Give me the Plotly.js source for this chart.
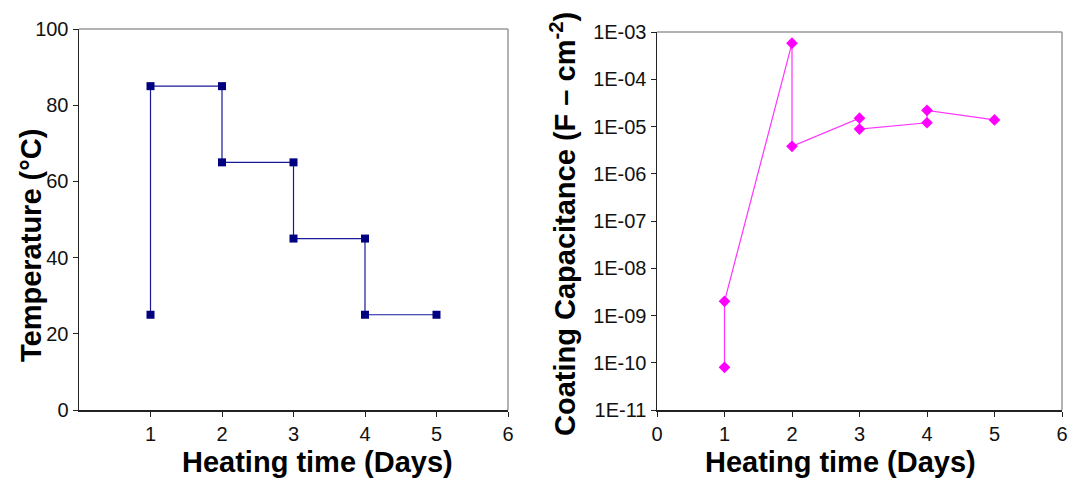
<!DOCTYPE html>
<html><head><meta charset="utf-8">
<script src="https://cdn.plot.ly/plotly-3.0.1.min.js"></script>
<style>html,body{margin:0;padding:0;background:#fff}</style>
</head><body><div id="chart" style="width:1069px;height:479px"></div>
<script>
const tempDays = [1, 1, 2, 2, 3, 3, 4, 4, 5];
const tempValues = [25, 85, 85, 65, 65, 45, 45, 25, 25];
const capDays = [1, 1, 2, 2, 3, 3, 4, 4, 5];
const capValues = [8e-11, 2e-9, 5.8e-4, 3.8e-6, 1.5e-5, 8.8e-6, 1.2e-5, 2.2e-5, 1.38e-5];
const leftXTicks = [1, 2, 3, 4, 5, 6];
const leftYTicks = [0, 20, 40, 60, 80, 100];
const rightXTicks = [0, 1, 2, 3, 4, 5, 6];
const rightYTicks = [1e-11, 1e-10, 1e-9, 1e-8, 1e-7, 1e-6, 1e-5, 1e-4, 1e-3];
const rightYLabels = ["1E-11","1E-10","1E-09","1E-08","1E-07","1E-06","1E-05","1E-04","1E-03"];

const font = "Liberation Sans, Arial, sans-serif";
const tickFont = {family: font, size: 20, color: "#111"};

const traces = [
  {x: tempDays, y: tempValues, xaxis: "x", yaxis: "y", mode: "lines+markers", type: "scatter",
   line: {color: "#1a1a99", width: 1.2}, marker: {symbol: "square", size: 8, color: "#000080"}, cliponaxis: false},
  {x: capDays, y: capValues, xaxis: "x2", yaxis: "y2", mode: "lines+markers", type: "scatter",
   line: {color: "#ff33ff", width: 1.2}, marker: {symbol: "diamond", size: 9, color: "#ff00ff"}, cliponaxis: false}
];

const axBase = {showgrid: false, zeroline: false, showline: true, linecolor: "#222", linewidth: 1.5,
  ticks: "outside", ticklen: 5, tickcolor: "#222", tickwidth: 1, tickfont: tickFont, fixedrange: true};

const titleFont = {family: font, size: 29, color: "#000"};

const layout = {
  width: 1069, height: 479, margin: {l: 0, r: 0, t: 0, b: 0},
  paper_bgcolor: "#fff", plot_bgcolor: "#fff", showlegend: false,
  xaxis: Object.assign({}, axBase, {domain: [79/1069, 508/1069], range: [0, 6], tickvals: leftXTicks, anchor: "y"}),
  yaxis: Object.assign({}, axBase, {domain: [1-410/479, 1-29/479], range: [0, 100], tickvals: leftYTicks, anchor: "x"}),
  xaxis2: Object.assign({}, axBase, {domain: [657/1069, 1062/1069], range: [0, 6], tickvals: rightXTicks, anchor: "y2"}),
  yaxis2: Object.assign({}, axBase, {domain: [1-410/479, 1-32/479], type: "log", range: [-11, -3], tickvals: rightYTicks, ticktext: rightYLabels, anchor: "x2"}),
  shapes: [
    {type: "line", xref: "x domain", yref: "y domain", x0: 0, x1: 1, y0: 1, y1: 1, line: {color: "#999", width: 1.5}},
    {type: "line", xref: "x domain", yref: "y domain", x0: 1, x1: 1, y0: 0, y1: 1, line: {color: "#999", width: 1.5}},
    {type: "line", xref: "x2 domain", yref: "y2 domain", x0: 0, x1: 1, y0: 1, y1: 1, line: {color: "#999", width: 1.5}},
    {type: "line", xref: "x2 domain", yref: "y2 domain", x0: 1, x1: 1, y0: 0, y1: 1, line: {color: "#999", width: 1.5}}
  ],
  annotations: [
    {text: "<b>Heating time (Days)</b>", xref: "paper", yref: "paper", x: 317/1069, y: 1-462/479, showarrow: false, font: titleFont, xanchor: "center", yanchor: "middle"},
    {text: "<b>Temperature (°C)</b>", xref: "paper", yref: "paper", x: 31/1069, y: 1-246/479, textangle: -90, showarrow: false, font: titleFont, xanchor: "center", yanchor: "middle"},
    {text: "<b>Heating time (Days)</b>", xref: "paper", yref: "paper", x: 840/1069, y: 1-462/479, showarrow: false, font: titleFont, xanchor: "center", yanchor: "middle"},
    {text: "<b>Coating Capacitance (F – cm<sup>-2</sup>)</b>", xref: "paper", yref: "paper", x: 563/1069, y: 1-224/479, textangle: -90, showarrow: false, font: titleFont, xanchor: "center", yanchor: "middle"}
  ]
};

Plotly.newPlot("chart", traces, layout, {displayModeBar: false, staticPlot: true});
</script></body></html>
